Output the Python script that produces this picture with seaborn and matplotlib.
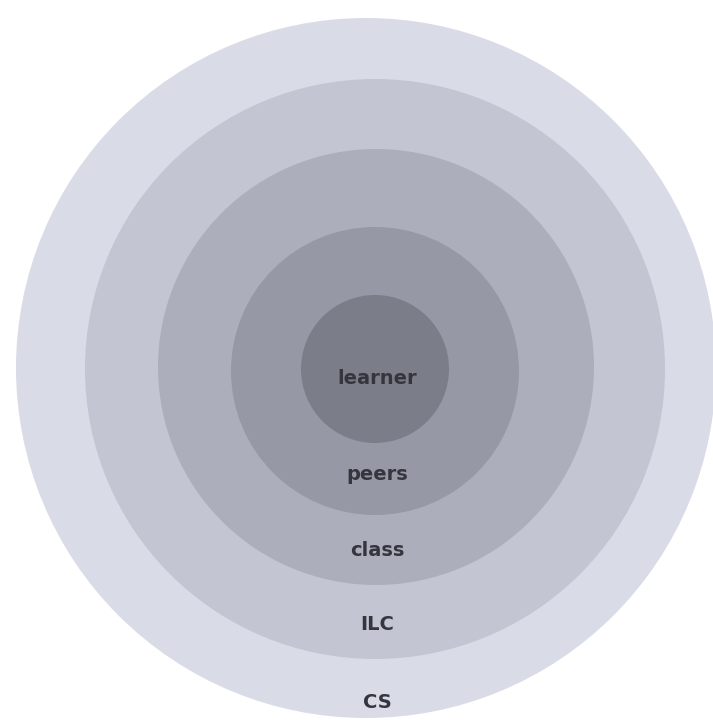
import matplotlib
matplotlib.use("Agg")
import matplotlib.pyplot as plt
from matplotlib.patches import Circle
import seaborn as sns

# ===============================
# DATA (outer -> inner)
# ===============================
labels = ["CS", "ILC", "class", "peers", "learner"]
radius = [350, 290, 218, 144, 74]
center_x = [366, 375, 376, 375, 375]
center_y = [368, 369, 367, 371, 369]
label_y = [703, 625, 550, 474, 378]
colors = ["#d9dbe7", "#c3c5d2", "#acaebb", "#9698a5", "#7b7d89"]

sns.set_theme(style="white")
plt.rcParams['font.family'] = ['DejaVu Sans']

fig = plt.figure(figsize=(7.13, 7.2), dpi=100)
ax = fig.add_axes([0, 0, 1, 1])
ax.set_xlim(0, 713)
ax.set_ylim(720, 0)
ax.set_aspect("equal")
ax.axis("off")

for lab, r, cx, cy, ly, c in zip(labels, radius, center_x, center_y, label_y, colors):
    ax.add_patch(Circle((cx, cy), r, facecolor=c, edgecolor="none"))
    ax.text(377, ly, lab, ha="center", va="center", fontsize=14,
            fontweight="bold", color="#35363d")

fig.savefig("out.png", dpi=100, facecolor="white")
